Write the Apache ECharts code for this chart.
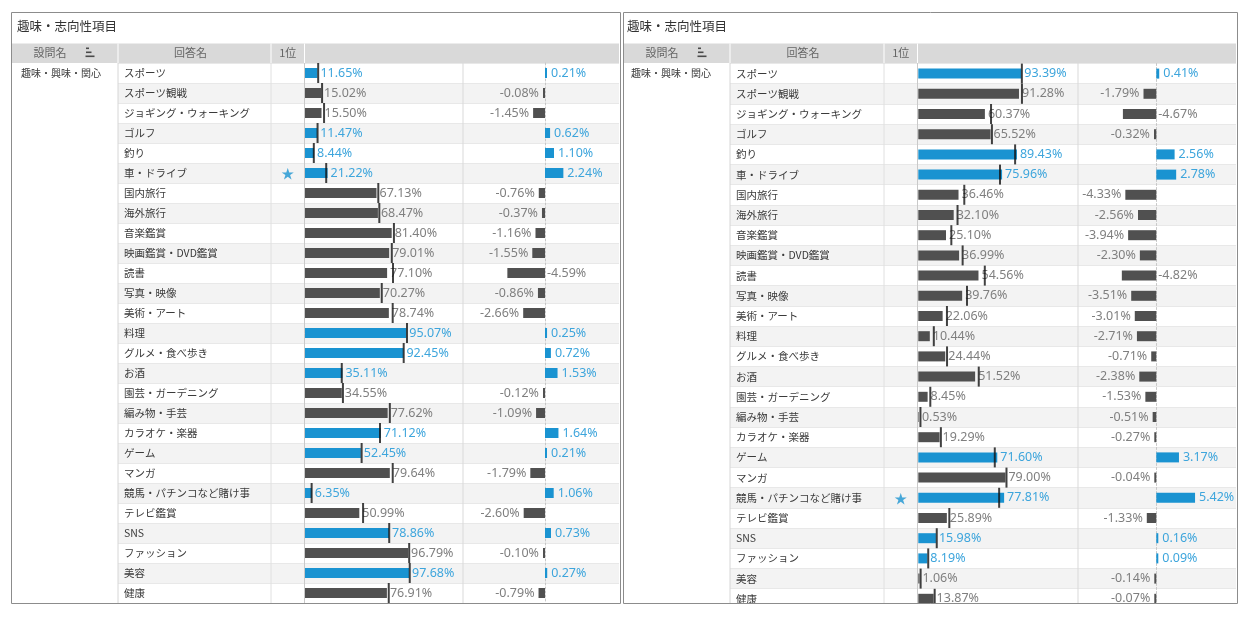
<!DOCTYPE html>
<html><head><meta charset="utf-8">
<script src="https://cdn.jsdelivr.net/npm/echarts@6/dist/echarts.min.js"></script>
<style>html,body{margin:0;padding:0;background:#fff}#c{width:1250px;height:619px}</style>
</head><body><div id="c"></div>
<script>
const titleText = '趣味・志向性項目';
const questionName = '趣味・興味・関心';
const headerLabels = ['設問名', '回答名', '1位'];
const answers = ['スポーツ','スポーツ観戦','ジョギング・ウォーキング','ゴルフ','釣り','車・ドライブ','国内旅行','海外旅行','音楽鑑賞','映画鑑賞・DVD鑑賞','読書','写真・映像','美術・アート','料理','グルメ・食べ歩き','お酒','園芸・ガーデニング','編み物・手芸','カラオケ・楽器','ゲーム','マンガ','競馬・パチンコなど賭け事','テレビ鑑賞','SNS','ファッション','美容','健康'];
const leftValues = [11.65,15.02,15.50,11.47,8.44,21.22,67.13,68.47,81.40,79.01,77.10,70.27,78.74,95.07,92.45,35.11,34.55,77.62,71.12,52.45,79.64,6.35,50.99,78.86,96.79,97.68,76.91];
const leftChanges = [0.21,-0.08,-1.45,0.62,1.10,2.24,-0.76,-0.37,-1.16,-1.55,-4.59,-0.86,-2.66,0.25,0.72,1.53,-0.12,-1.09,1.64,0.21,-1.79,1.06,-2.60,0.73,-0.10,0.27,-0.79];
const leftStar = '車・ドライブ';
const rightValues = [93.39,91.28,60.37,65.52,89.43,75.96,36.46,32.10,25.10,36.99,54.56,39.76,22.06,10.44,24.44,51.52,8.45,0.53,19.29,71.60,79.00,77.81,25.89,15.98,8.19,1.06,13.87];
const rightChanges = [0.41,-1.79,-4.67,-0.32,2.56,2.78,-4.33,-2.56,-3.94,-2.30,-4.82,-3.51,-3.01,-2.71,-0.71,-2.38,-1.53,-0.51,-0.27,3.17,-0.04,5.42,-1.33,0.16,0.09,-0.14,-0.07];
const rightStar = '競馬・パチンコなど賭け事';

const BLUE = '#1a93d1', BLUE_T = '#3da5dc', GRAY = '#505050', GRAY_T = '#7f7f7f', MARK = '#111111';
const JP = "'Noto Sans CJK JP', sans-serif";
const NUM = "'Noto Sans', 'Noto Sans CJK JP', sans-serif";
const TOP = 12.5, BOTTOM = 603.5, HEAD_T = 43.5, HEAD_B = 63;
const LABEL_ROOM = 46;

const panels = [
  {values:leftValues, changes:leftChanges, star:leftStar, x0:11, x1:620, titleX:17, qX:21,
   col1:118, col2:271, col3:304.5, col4:463, right:619, rowTop:63, rowH:20,
   barLeft:305, barPx:106.5, zero:545, chPx:8.2},
  {values:rightValues, changes:rightChanges, star:rightStar, x0:623, x1:1237, titleX:627, qX:631,
   col1:730, col2:884, col3:917.5, col4:1078, right:1236, rowTop:63.5, rowH:20.2,
   barLeft:918.3, barPx:110.3, zero:1156.3, chPx:7.15}
];

const grids = [], xAxes = [], yAxes = [], series = [], graphics = [];
const N = answers.length;
const pct = v => v.toFixed(2) + '%';
function txt(text, x, y, size, color, align, family) {
  return {type:'text', x:x, y:y, z:50, silent:true,
    style:{text:text, fontSize:size, fontFamily:family||JP, fill:color,
      align:align||'left', textAlign:align||'left', verticalAlign:'middle', textVerticalAlign:'middle'}};
}
function vline(x, y1, y2, color, z) {
  return {type:'line', z:z||1, silent:true, shape:{x1:x, y1:y1, x2:x, y2:y2}, style:{stroke:color, lineWidth:1}};
}

panels.forEach(p => {
  const H = p.rowH * N;
  const hidY = {type:'category', data:answers, inverse:true, show:false};
  // background rows + answer names
  let g = grids.length;
  grids.push({left:p.col1, top:p.rowTop, width:p.right - p.col1, height:H});
  xAxes.push({gridIndex:g, type:'value', min:0, max:1, show:false});
  yAxes.push({gridIndex:g, type:'category', data:answers, inverse:true,
    axisLine:{show:false}, axisTick:{show:false},
    axisLabel:{inside:true, margin:6, interval:0, color:'#3a3a3a', fontSize:10.5, fontFamily:JP},
    splitArea:{show:true, interval:0, areaStyle:{color:['#ffffff','#f3f3f3']}},
    splitLine:{show:true, interval:0, lineStyle:{color:'#e8e8e8'}}});
  // star column
  g = grids.length;
  grids.push({left:p.col2, top:p.rowTop, width:p.col3 - p.col2, height:H});
  xAxes.push({gridIndex:g, type:'category', data:[headerLabels[2]], show:false});
  yAxes.push(Object.assign({gridIndex:g}, hidY));
  series.push({type:'scatter', xAxisIndex:g, yAxisIndex:g, symbolSize:0, z:4,
    data:[[0, answers.indexOf(p.star)]],
    label:{show:true, position:'inside', formatter:'★', color:BLUE, fontSize:13, fontFamily:JP}});
  // main bars
  g = grids.length;
  grids.push({left:p.barLeft, top:p.rowTop, width:p.barPx, height:H});
  xAxes.push({gridIndex:g, type:'value', min:0, max:100, show:false});
  yAxes.push(Object.assign({gridIndex:g}, hidY));
  series.push({type:'bar', xAxisIndex:g, yAxisIndex:g, barWidth:10, z:2,
    data:p.values.map((v, i) => ({value:v,
      itemStyle:{color:p.changes[i] >= 0 ? BLUE : GRAY},
      label:{color:p.changes[i] >= 0 ? BLUE_T : GRAY_T}})),
    label:{show:true, position:'right', distance:3, fontSize:12.5, fontFamily:NUM,
      formatter:q => pct(q.value)}});
  series.push({type:'scatter', xAxisIndex:g, yAxisIndex:g, symbol:'rect', symbolSize:[2, 20],
    symbolOffset:[1, 0], z:3, itemStyle:{color:MARK},
    data:p.values.map((v, i) => [v - p.changes[i], i])});
  // change bars
  g = grids.length;
  const room = p.zero - p.col4;
  grids.push({left:p.col4, top:p.rowTop, width:p.right - p.col4, height:H});
  xAxes.push({gridIndex:g, type:'value', show:false,
    min:-room / p.chPx, max:(p.right - p.zero) / p.chPx});
  yAxes.push({gridIndex:g, type:'category', data:answers, inverse:true,
    axisLine:{show:true, onZero:true, lineStyle:{color:'#c8c8c8', type:[2, 2]}},
    axisTick:{show:false}, axisLabel:{show:false}});
  series.push({type:'bar', xAxisIndex:g, yAxisIndex:g, barWidth:10, barMinHeight:2, z:2,
    data:p.changes.map(c => {
      const fitsLeft = Math.abs(c) * p.chPx + LABEL_ROOM <= room;
      const pos = (c >= 0 || !fitsLeft) ? 'right' : 'left';
      return {value:c,
        itemStyle:{color:c >= 0 ? BLUE : GRAY},
        label:{position:pos, distance:(c < 0 && pos === 'right') ? 2 : 4, color:c >= 0 ? BLUE_T : GRAY_T}};
    }),
    label:{show:true, distance:4, fontSize:12.5, fontFamily:NUM, formatter:q => pct(q.value)}});

  // static frame
  graphics.push({type:'rect', z:0, silent:true, shape:{x:p.x0 + 1, y:HEAD_T, width:p.x1 - p.x0 - 2, height:HEAD_B - HEAD_T},
    style:{fill:'#d9d9d9'}});
  [p.col1, p.col2, p.col3].forEach(x => graphics.push(vline(x, HEAD_T, HEAD_B, '#ffffff', 1)));
  graphics.push(vline(p.col1, HEAD_B, BOTTOM, '#d6d6d6', 1));
  graphics.push(vline(p.col2, HEAD_B, BOTTOM, '#e0e0e0', 1));
  graphics.push(vline(p.col3, HEAD_B, BOTTOM, '#c9c9c9', 1));
  graphics.push(vline(p.col4, HEAD_B, BOTTOM, '#d9d9d9', 1));
  graphics.push(txt(titleText, p.titleX, 26.5, 12.5, '#333333', 'left'));
  graphics.push(txt(headerLabels[0], p.x0 + 39, 53, 11, '#666666', 'center'));
  graphics.push(txt(headerLabels[1], (p.col1 + p.col2) / 2 - 4, 53, 11, '#666666', 'center'));
  graphics.push(txt(headerLabels[2], (p.col2 + p.col3) / 2, 53, 11, '#666666', 'center'));
  const ix = p.x0 + 75;
  [[0, 47.5, 3], [0, 51.5, 5.5], [-0.5, 55.5, 9]].forEach(s =>
    graphics.push({type:'rect', z:50, silent:true, shape:{x:ix + s[0], y:s[1], width:s[2], height:1.6}, style:{fill:'#4a4a4a'}}));
  graphics.push(txt(questionName, p.qX, p.rowTop + 10, 10, '#3a3a3a', 'left'));
});
graphics.push({type:'rect', z:99, silent:true, shape:{x:0, y:BOTTOM, width:1250, height:619 - BOTTOM}, style:{fill:'#ffffff'}});
panels.forEach(p => graphics.push({type:'rect', z:100, silent:true,
  shape:{x:p.x0 + 0.5, y:TOP, width:p.x1 - p.x0, height:BOTTOM - TOP},
  style:{fill:'none', stroke:'#8c8c8c', lineWidth:1}}));

const chart = echarts.init(document.getElementById('c'), null, {renderer:'canvas'});
chart.setOption({
  animation:false,
  backgroundColor:'#ffffff',
  grid:grids, xAxis:xAxes, yAxis:yAxes, series:series, graphic:graphics
});
</script>
</body></html>
